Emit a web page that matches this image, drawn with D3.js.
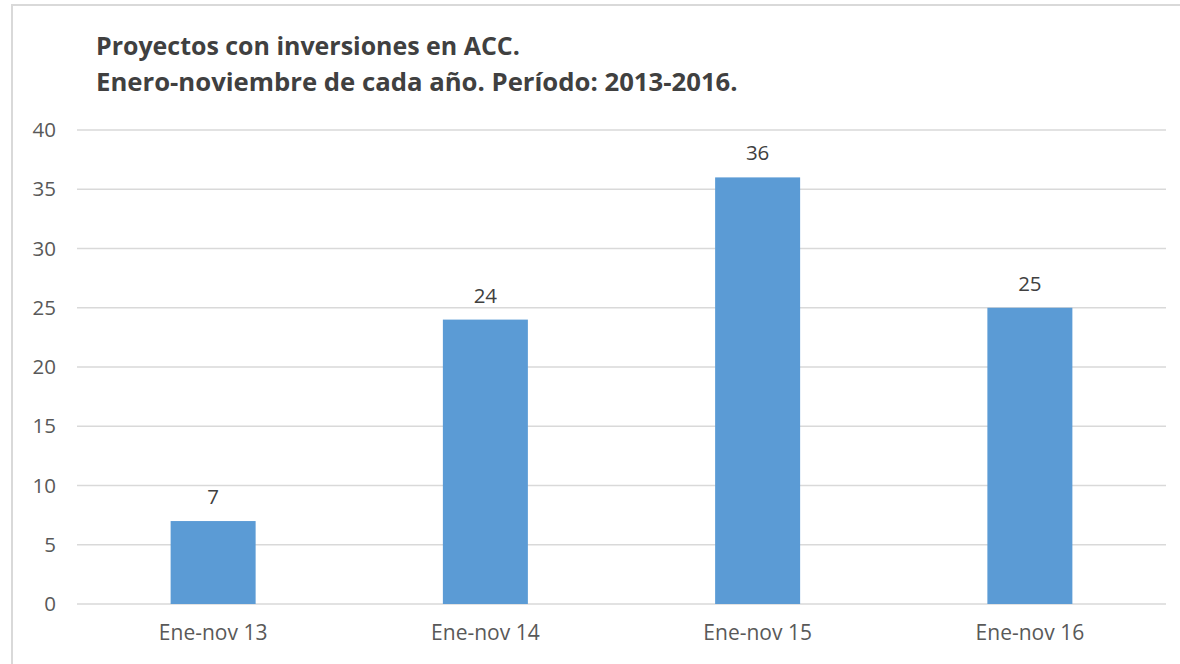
<!DOCTYPE html>
<html><head><meta charset="utf-8">
<script src="https://cdn.jsdelivr.net/npm/d3@7"></script>
<style>body{margin:0;background:#fff;}svg{display:block;}</style>
</head><body>
<svg id="c" width="1180" height="664"></svg>
<script>
const categories = ["Ene-nov 13","Ene-nov 14","Ene-nov 15","Ene-nov 16"];
const values = [7,24,36,25];
const yTicks = [0,5,10,15,20,25,30,35,40];
const titleLines = ["Proyectos con inversiones en ACC.","Enero-noviembre de cada año. Período: 2013-2016."];

(function(){
const svg = d3.select("#c");
const font = "'Open Sans', 'Liberation Sans', sans-serif";
const txt = "#595959";

svg.append("rect").attr("x",12).attr("y",5).attr("width",1180).attr("height",700)
  .attr("fill","#fff").attr("stroke","#d9d9d9").attr("stroke-width",2);

const pl=77, pr=1166, pt=130, pb=604;
const x = d3.scaleBand().domain(categories).range([pl,pr]).padding(0);
const y = d3.scaleLinear().domain([0,40]).range([pb,pt]);

svg.append("g").selectAll("line").data(yTicks).join("line")
  .attr("x1",pl).attr("x2",pr)
  .attr("y1",d=>y(d)).attr("y2",d=>y(d))
  .attr("stroke","#d9d9d9").attr("stroke-width",1.3);

const yAxis = d3.axisLeft(y).tickValues(yTicks).tickSize(0).tickPadding(0);
const ya = svg.append("g").attr("transform",`translate(56,0)`).call(yAxis);
ya.select(".domain").remove();
ya.selectAll("text").attr("font-family",font).attr("font-size",20.5).attr("fill",txt);

const xAxis = d3.axisBottom(x).tickSize(0).tickPadding(0);
const xa = svg.append("g").attr("transform",`translate(0,${pb+21})`).call(xAxis);
xa.select(".domain").remove();
xa.selectAll("text").attr("font-family",font).attr("font-size",21).attr("fill",txt);

const bw = 85;
svg.append("g").selectAll("rect").data(values).join("rect")
  .attr("x",(d,i)=>x(categories[i])+x.bandwidth()/2-bw/2)
  .attr("width",bw)
  .attr("y",d=>y(d)).attr("height",d=>y(0)-y(d))
  .attr("fill","#5B9BD5");

svg.append("g").selectAll("text").data(values).join("text")
  .attr("x",(d,i)=>x(categories[i])+x.bandwidth()/2)
  .attr("y",d=>y(d)-17)
  .attr("text-anchor","middle")
  .attr("font-family",font).attr("font-size",20.5).attr("fill","#404040")
  .text(d=>d);

const tg = svg.append("g");
const t1 = tg.append("text").attr("x",96).attr("y",55).attr("font-family",font)
  .attr("font-weight","bold").attr("font-size",22).attr("fill","#404040").text(titleLines[0]);
const t2 = tg.append("text").attr("x",96).attr("y",91).attr("font-family",font)
  .attr("font-weight","bold").attr("font-size",22).attr("fill","#404040").text(titleLines[1]);
[[t1,424],[t2,642]].forEach(([t,w])=>{
  const l=t.node().getComputedTextLength();
  t.attr("font-size",22*w/l);
});
})();
</script>
</body></html>
